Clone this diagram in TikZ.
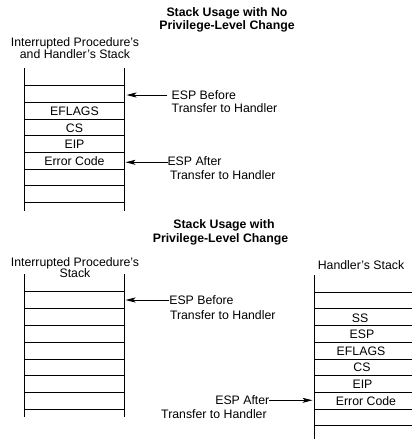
\documentclass[tikz,border=0pt]{standalone}
\usepackage{fontspec}
\setmainfont{Liberation Sans}
\usetikzlibrary{arrows.meta}
\begin{document}
\begin{tikzpicture}[x=1pt,y=-1pt,
  txt/.style={inner sep=0pt,outer sep=0pt,anchor=base,font=\fontsize{12.3}{14}\selectfont},
  ltxt/.style={txt,anchor=base west},
  rtxt/.style={txt,anchor=base east},
  ttl/.style={txt,font=\fontsize{12.3}{14}\selectfont\bfseries},
  stk/.style={line width=0.9pt},
  ptr/.style={line width=0.9pt,-{Stealth[length=10pt,width=5pt,inset=2.5pt]}}]
\useasboundingbox[fill=white] (0,0) rectangle (412,439);

% ---------- top part ----------
\node[ttl] (t1a) at (227,16.7) {Stack Usage with No};
\node[ttl] (t1b) at (227,29.5) {Privilege-Level Change};
\node[txt] (h1a) at (75,46) {Interrupted Procedure’s};
\node[txt] (h1b) at (75,58.3) {and Handler’s Stack};

\draw[stk] (24.5,68) -- (24.5,211);
\draw[stk] (124.5,68) -- (124.5,211);
\foreach \y in {85.7,102.3,119,135.7,152.3,169,185.7,202.3}
  \draw[stk] (24.5,\y) -- (124.5,\y);
\node[txt] (a1) at (74.5,115.7) {EFLAGS};
\node[txt] (a2) at (74.5,132.3) {CS};
\node[txt] (a3) at (74.5,148.8) {EIP};
\node[txt] (a4) at (74.5,165.4) {Error Code};

\coordinate (p1tip) at (126.5,95);
\coordinate (p2tip) at (125.5,162.3);
\node[ltxt] (e1a) at (171.7,99) {ESP Before};
\node[ltxt] (e1b) at (171.7,112.7) {Transfer to Handler};
\node[ltxt] (e2a) at (167.5,165.7) {ESP After};
\node[ltxt] (e2b) at (170,179) {Transfer to Handler};
\draw[ptr] (167,95) -- (p1tip);
\draw[ptr] (e2a.west |- p2tip) -- (p2tip);

% ---------- bottom part ----------
\node[ttl] (t2a) at (224,228.7) {Stack Usage with};
\node[ttl] (t2b) at (220.5,242) {Privilege-Level Change};
\node[txt] (h2a) at (75,266) {Interrupted Procedure’s};
\node[txt] (h2b) at (75,277.7) {Stack};
\node[txt] (h3) at (361,269) {Handler’s Stack};

\draw[stk] (24.5,274.3) -- (24.5,416.7);
\draw[stk] (124.5,274.3) -- (124.5,416.7);
\foreach \y in {291.7,308.3,325.7,342.3,359,375.7,392.3,409}
  \draw[stk] (24.5,\y) -- (124.5,\y);

\draw[stk] (314.5,275) -- (314.5,439);
\foreach \y in {292,308.7,325.7,342.3,359,375.7,392.3,409,425.7}
  \draw[stk] (314.5,\y) -- (412,\y);
\node[txt] (b1) at (360,322) {SS};
\node[txt] (b2) at (362,338.6) {ESP};
\node[txt] (b3) at (361,355.2) {EFLAGS};
\node[txt] (b4) at (362,371.9) {CS};
\node[txt] (b5) at (362.5,388.5) {EIP};
\node[txt] (b6) at (366,405.1) {Error Code};

\coordinate (p3tip) at (125.5,300);
\coordinate (p4tip) at (312.5,400.3);
\node[ltxt] (e3a) at (169.3,304.3) {ESP Before};
\node[ltxt] (e3b) at (170,319.3) {Transfer to Handler};
\node[rtxt] (e4a) at (269.3,404) {ESP After};
\node[rtxt] (e4b) at (266.7,418.3) {Transfer to Handler};
\draw[ptr] (e3a.west |- p3tip) -- (p3tip);
\draw[ptr] (e4a.east |- p4tip) -- (p4tip);
\end{tikzpicture}
\end{document}
